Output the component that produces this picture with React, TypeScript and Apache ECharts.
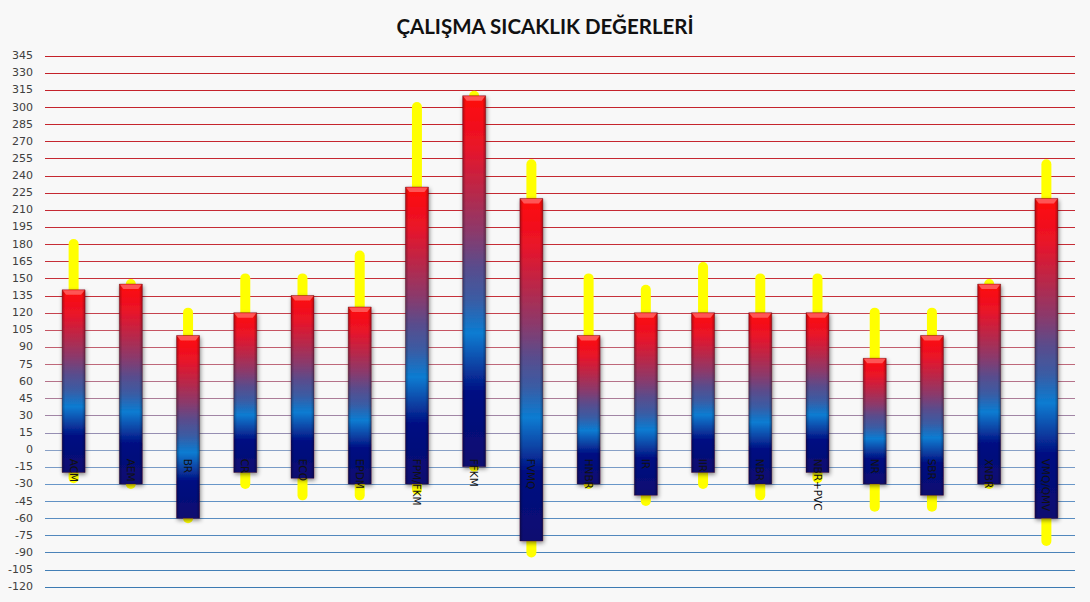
import React, { useEffect, useRef } from "react";
import * as echarts from "echarts";

const categories = ["ACM", "AEM", "BR", "CR", "ECO", "EPDM", "FPM/FKM", "FFKM", "FVMQ", "HNBR", "IR", "IIR", "NBR", "NBR+PVC", "NR", "SBR", "XNBR", "VMQ/QMV"];
const rangeMax = [140, 145, 100, 120, 135, 125, 230, 310, 220, 100, 120, 120, 120, 120, 80, 100, 145, 220];
const rangeMin = [-20, -30, -60, -20, -25, -30, -30, -15, -80, -30, -40, -20, -30, -20, -30, -40, -30, -60];
const peakMax = [180, 145, 120, 150, 150, 170, 300, 310, 250, 150, 140, 160, 150, 150, 120, 120, 145, 250];
const peakMin = [-25, -30, -60, -30, -40, -40, -35, -15, -90, -30, -45, -30, -40, -25, -50, -50, -30, -80];
const yTicks = [-120, -105, -90, -75, -60, -45, -30, -15, 0, 15, 30, 45, 60, 75, 90, 105, 120, 135, 150, 165, 180, 195, 210, 225, 240, 255, 270, 285, 300, 315, 330, 345];
const yMin = -120;
const yMax = 345;
const yStep = 15;

const gridStops: [number, number[]][] = [
  [345, [196, 32, 40]],
  [135, [198, 48, 58]],
  [105, [198, 84, 98]],
  [75, [190, 104, 122]],
  [45, [172, 124, 152]],
  [15, [150, 142, 178]],
  [0, [136, 160, 198]],
  [-30, [104, 150, 200]],
  [-120, [60, 122, 178]],
];

function gridColor(v: number): string {
  for (let i = 0; i < gridStops.length - 1; i++) {
    const [a, ca] = gridStops[i];
    const [b, cb] = gridStops[i + 1];
    if (v <= a && v >= b) {
      const t = (a - v) / (a - b);
      const c = ca.map((x, k) => Math.round(x + (cb[k] - x) * t));
      return `rgb(${c[0]},${c[1]},${c[2]})`;
    }
  }
  return "rgb(60,122,178)";
}

export default function App() {
  const ref = useRef<HTMLDivElement>(null);
  useEffect(() => {
    if (!ref.current) return;
    const chart = echarts.init(ref.current, undefined, { renderer: "svg" });

    const barData = categories.map((_, i) => [i, rangeMin[i], rangeMax[i]]);
    const peakData = categories.map((_, i) => [i, peakMin[i], peakMax[i]]);
    const gridData = yTicks.map((v) => [0, v]);
    const labelData = categories.map((c, i) => [i, 0, c]);

    const barGradient = new echarts.graphic.LinearGradient(0, 0, 0, 1, [
      { offset: 0, color: "#ff0a0a" },
      { offset: 0.14, color: "#e8142a" },
      { offset: 0.26, color: "#b8284a" },
      { offset: 0.37, color: "#8a3a6c" },
      { offset: 0.46, color: "#5a4c8c" },
      { offset: 0.55, color: "#3a5ca4" },
      { offset: 0.64, color: "#0a7cd2" },
      { offset: 0.73, color: "#0a40a2" },
      { offset: 0.8, color: "#020c82" },
      { offset: 1, color: "#0a0a70" },
    ]);
    const sideShade = new echarts.graphic.LinearGradient(0, 0, 1, 0, [
      { offset: 0, color: "rgba(0,0,0,0.28)" },
      { offset: 0.14, color: "rgba(0,0,0,0)" },
      { offset: 0.86, color: "rgba(0,0,0,0)" },
      { offset: 1, color: "rgba(0,0,0,0.28)" },
    ]);

    chart.setOption({
      animation: false,
      backgroundColor: "#f8f8f8",
      title: {
        text: "ÇALIŞMA SICAKLIK DEĞERLERİ",
        left: "center",
        top: 10,
        textStyle: { fontFamily: "Lato", fontWeight: "bold", fontSize: 20.5, color: "#111" },
      },
      grid: { left: 45, right: 15, top: 55.7, bottom: 15.3, containLabel: false, outerBoundsMode: "none" },
      xAxis: {
        type: "category",
        data: categories,
        axisLine: { show: false },
        axisTick: { show: false },
        splitLine: { show: false },
        axisLabel: { show: false },
      },
      yAxis: {
        type: "value",
        min: yMin,
        max: yMax,
        interval: yStep,
        axisLine: { show: false },
        axisTick: { show: false },
        axisLabel: { fontFamily: "DejaVu Sans", fontSize: 11, color: "#404040", margin: 12 },
        splitLine: { show: false },
      },
      series: [
        {
          type: "custom",
          name: "grid",
          z: 1,
          silent: true,
          data: gridData,
          encode: { y: 1 },
          renderItem: (params: any, api: any) => {
            const v = api.value(1);
            const p = api.coord([0, v]);
            const cs = params.coordSys;
            const y = Math.round(p[1]) + 0.5;
            return {
              type: "line",
              shape: { x1: cs.x, y1: y, x2: cs.x + cs.width, y2: y },
              style: { stroke: gridColor(v), lineWidth: 1 },
            };
          },
        },
        {
          type: "custom",
          name: "peak",
          z: 2,
          data: peakData,
          encode: { x: 0, y: [1, 2] },
          renderItem: (params: any, api: any) => {
            const i = api.value(0);
            const lo = api.coord([i, api.value(1)]);
            const hi = api.coord([i, api.value(2)]);
            return {
              type: "line",
              shape: { x1: hi[0], y1: hi[1], x2: lo[0], y2: lo[1] },
              style: { stroke: "#ffff00", lineWidth: 10, lineCap: "round" },
            };
          },
        },
        {
          type: "custom",
          name: "range",
          z: 3,
          data: barData,
          encode: { x: 0, y: [1, 2] },
          renderItem: (params: any, api: any) => {
            const i = api.value(0);
            const lo = api.coord([i, api.value(1)]);
            const hi = api.coord([i, api.value(2)]);
            const w = 23;
            const left = hi[0] - w / 2;
            const top = hi[1];
            const h = lo[1] - hi[1];
            return {
              type: "group",
              children: [
                {
                  type: "rect",
                  shape: { x: left, y: top, width: w, height: h },
                  style: {
                    fill: barGradient,
                    stroke: "rgba(90,10,30,0.45)",
                    lineWidth: 0.8,
                    shadowBlur: 4,
                    shadowColor: "rgba(0,0,0,0.45)",
                    shadowOffsetX: 1,
                    shadowOffsetY: 2,
                  },
                },
                {
                  type: "rect",
                  shape: { x: left, y: top, width: w, height: h },
                  style: { fill: sideShade },
                  silent: true,
                },
                {
                  type: "polygon",
                  shape: {
                    points: [
                      [left + 0.5, top + 0.5],
                      [left + w - 0.5, top + 0.5],
                      [left + w - 4, top + 5],
                      [left + 4, top + 5],
                    ],
                  },
                  style: { fill: "rgba(255,110,110,0.75)" },
                  silent: true,
                },
              ],
            };
          },
        },
        {
          type: "custom",
          name: "labels",
          z: 5,
          silent: true,
          data: labelData,
          encode: { x: 0, y: 1 },
          renderItem: (params: any, api: any) => {
            const i = api.value(0);
            const p = api.coord([i, 0]);
            return {
              type: "text",
              x: p[0],
              y: p[1] + 9,
              rotation: -Math.PI / 2,
              style: {
                text: categories[i],
                x: 0,
                y: 0,
                align: "left",
                verticalAlign: "middle",
                fontFamily: "DejaVu Sans",
                fontSize: 10.5,
                fill: "#111",
              },
            };
          },
        },
      ],
    });
    return () => chart.dispose();
  }, []);
  return <div ref={ref} style={{ position: "absolute", left: 0, top: 0, width: 1090, height: 602 }} />;
}
